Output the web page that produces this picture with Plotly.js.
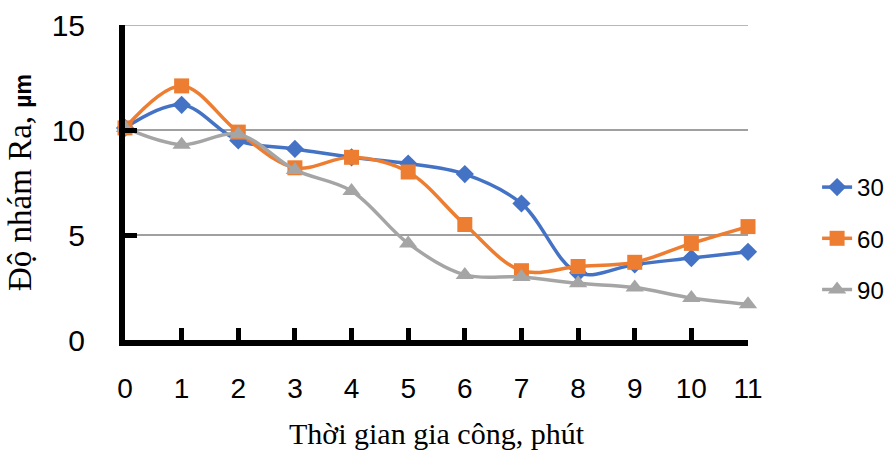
<!DOCTYPE html>
<html>
<head>
<meta charset="utf-8">
<script src="https://cdn.plot.ly/plotly-3.0.1.min.js"></script>
<style>html,body{margin:0;padding:0;background:#fff;}#chart{width:893px;height:450px;}</style>
</head>
<body>
<div id="chart"></div>
<script>
const xTime = [0, 1, 2, 3, 4, 5, 6, 7, 8, 9, 10, 11];
const ra30 = [10.1, 11.2, 9.5, 9.1, 8.7, 8.4, 7.9, 6.5, 3.2, 3.6, 3.9, 4.2];
const ra60 = [10.1, 12.1, 9.9, 8.2, 8.7, 8.0, 5.5, 3.3, 3.5, 3.7, 4.6, 5.4];
const ra90 = [10.1, 9.3, 9.8, 8.1, 7.1, 4.6, 3.1, 3.0, 2.7, 2.5, 2.0, 1.7];
const seriesNames = ['30', '60', '90'];
const xTickVals = [0, 1, 2, 3, 4, 5, 6, 7, 8, 9, 10, 11];
const yTickVals = [0, 5, 10, 15];

const colors = ['#4472C4', '#ED7D31', '#A5A5A5'];
const symbols = ['diamond', 'square', 'triangle-up'];
const sizes = [14, 15, 16];
const data = [ra30, ra60, ra90].map((ys, i) => ({
  x: xTime, y: ys, name: seriesNames[i], type: 'scatter', mode: 'lines+markers',
  legendgroup: 'g' + i,
  line: {color: colors[i], width: 3.5, shape: 'spline', smoothing: 1},
  marker: {color: colors[i], symbol: symbols[i], size: sizes[i]},
  cliponaxis: false
}));

const yMax = yTickVals[yTickVals.length - 1];
const layout = {
  width: 893, height: 450,
  margin: {l: 125, r: 145, t: 25, b: 110},
  paper_bgcolor: '#fff', plot_bgcolor: '#fff',
  font: {family: 'Liberation Sans, Arial, sans-serif', color: '#000'},
  xaxis: {
    range: [0, 11], tickvals: xTickVals, ticktext: xTickVals.map(String),
    showgrid: false, zeroline: false,
    showline: true, linecolor: '#000', linewidth: 6,
    ticks: 'inside', ticklen: 12, tickwidth: 5, tickcolor: '#000',
    tickfont: {size: 28, family: 'Liberation Sans, Arial, sans-serif'},
    ticklabelstandoff: 18,
    title: {text: 'Thời gian gia công, phút', font: {size: 30, family: 'Liberation Serif, Times New Roman, serif'}, standoff: 22}
  },
  yaxis: {
    range: [0, yMax], tickvals: yTickVals, ticktext: yTickVals.map(String),
    showgrid: true, gridcolor: '#A0A0A0', gridwidth: 1.5, zeroline: false,
    showline: true, linecolor: '#000', linewidth: 6,
    ticks: 'inside', ticklen: 12, tickwidth: 5, tickcolor: '#000',
    tickfont: {size: 30, family: 'Liberation Sans, Arial, sans-serif'},
    ticklabelstandoff: 28,
    title: {text: 'Độ nhám Ra, <b><span style="font-size:23px;font-family:Liberation Sans">µm</span></b>', font: {size: 33, family: 'Liberation Serif, Times New Roman, serif'}, standoff: 12}
  },
  shapes: [{type: 'line', xref: 'paper', yref: 'y', x0: 0, x1: 1, y0: yMax, y1: yMax,
            line: {color: '#A0A0A0', width: 1.5}, layer: 'below'}],
  showlegend: true,
  legend: {
    x: 0.915, xanchor: 'left', xref: 'container', y: 0.47, yanchor: 'middle', yref: 'container',
    font: {size: 24, family: 'Liberation Sans, Arial, sans-serif'},
    tracegroupgap: 17, bgcolor: 'rgba(0,0,0,0)'
  }
};
Plotly.newPlot('chart', data, layout, {displayModeBar: false, staticPlot: true});
</script>
</body>
</html>
